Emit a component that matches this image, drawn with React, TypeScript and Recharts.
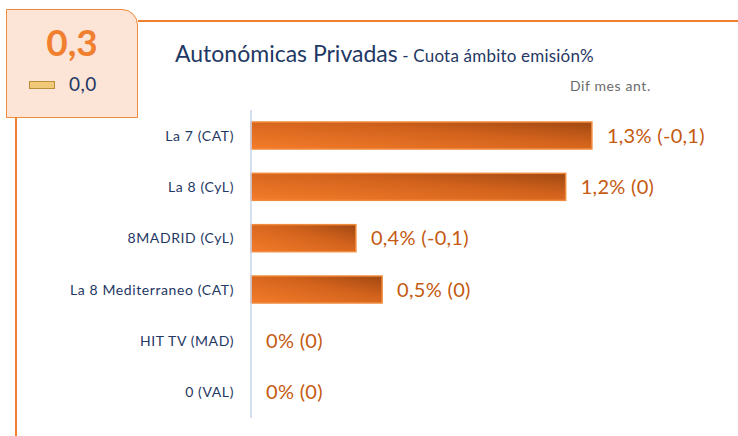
import React from 'react';
import { BarChart, Bar, XAxis, YAxis } from 'recharts';

const channels = ['La 7 (CAT)', 'La 8 (CyL)', '8MADRID (CyL)', 'La 8 Mediterraneo (CAT)', 'HIT TV (MAD)', '0 (VAL)'];
const shares = [1.3, 1.2, 0.4, 0.5, 0, 0];
const diffs = [-0.1, 0, -0.1, 0, 0, 0];

const totalShare = 0.3;
const totalDiff = 0.0;

const fmt = (v: number) => String(v).replace('.', ',');

const data = channels.map((name, i) => ({ name, share: shares[i], diff: diffs[i] }));

const font = 'Lato, "Open Sans", sans-serif';

// bar rect + value label drawn together so zero bars still get their label
const BarWithLabel = (props: any) => {
  const { x, y, width, height, index } = props;
  const d = data[index];
  return (
    <g>
      {width > 0 && (
        <rect x={x} y={y} width={width} height={height} fill="url(#barGrad)" stroke="#f08a3c" strokeWidth={1.5} />
      )}
      <text
        x={x + width + 15}
        y={y + height / 2}
        dy="0.35em"
        fill="#c55a11"
        fontSize={20}
        letterSpacing={0.3}
        fontFamily={font}
      >
        {`${fmt(d.share)}% (${fmt(d.diff)})`}
      </text>
    </g>
  );
};

const CategoryTick = (props: any) => {
  const { x, y, payload } = props;
  return (
    <text x={x} y={y} dy="0.35em" textAnchor="end" fill="#1f3864" fontSize={14} letterSpacing={0.6} fontFamily={font}>
      {payload.value}
    </text>
  );
};

const App: React.FC = () => (
  <div style={{ position: 'absolute', left: 0, top: 0, width: 738, height: 436, background: '#fff', fontFamily: font }}>
    {/* frame lines */}
    <div style={{ position: 'absolute', left: 138, top: 20, width: 600, height: 2, background: '#f07f2f' }} />
    <div style={{ position: 'absolute', left: 15, top: 118, width: 2, height: 318, background: '#f07f2f' }} />
    {/* kpi box */}
    <div
      style={{
        position: 'absolute',
        left: 6,
        top: 9,
        width: 130,
        height: 107,
        background: '#fce4d6',
        border: '1.5px solid #f08a3c',
        borderTopRightRadius: 16,
      }}
    >
      <div style={{ position: 'absolute', left: 0, width: 130, top: 12, textAlign: 'center', fontSize: 37, fontWeight: 700, color: '#f07f2f', lineHeight: '40px' }}>
        {fmt(totalShare)}
      </div>
      <div style={{ position: 'absolute', left: 22, top: 71, width: 24, height: 6, background: '#f0c878', border: '1px solid #b8903a' }} />
      <div style={{ position: 'absolute', left: 62, top: 64, fontSize: 19, color: '#1f3864', lineHeight: '20px', letterSpacing: 0.5 }}>
        {totalDiff.toFixed(1).replace('.', ',')}
      </div>
    </div>
    {/* titles */}
    <div style={{ position: 'absolute', left: 175, top: 39, whiteSpace: 'nowrap', color: '#1f3864', lineHeight: '28px' }}>
      <span style={{ fontSize: 23 }}>Autonómicas Privadas</span>
      <span style={{ fontSize: 17, letterSpacing: 0.2 }}> - Cuota ámbito emisión%</span>
    </div>
    <div style={{ position: 'absolute', left: 570, top: 77, fontSize: 14, letterSpacing: 0.6, color: '#6b6b6b' }}>Dif mes ant.</div>

    <div style={{ position: 'absolute', left: 0, top: 0 }}>
      <BarChart
        width={738}
        height={436}
        data={data}
        layout="vertical"
        margin={{ top: 110, right: 15, bottom: 18, left: 0 }}
      >
        <defs>
          <linearGradient id="barGrad" x1="0" y1="1" x2="1" y2="0">
            <stop offset="0%" stopColor="#f47c2a" />
            <stop offset="60%" stopColor="#d2621c" />
            <stop offset="100%" stopColor="#a04812" />
          </linearGradient>
        </defs>
        <XAxis type="number" domain={[0, 1.8]} hide />
        <YAxis
          type="category"
          dataKey="name"
          width={251}
          tickLine={false}
          axisLine={{ stroke: '#c9d5ee', strokeWidth: 1.5 }}
          tick={<CategoryTick />}
          tickMargin={11}
          interval={0}
        />
        <Bar dataKey="share" barSize={27} shape={<BarWithLabel />} isAnimationActive={false} />
      </BarChart>
    </div>
  </div>
);

export default App;
